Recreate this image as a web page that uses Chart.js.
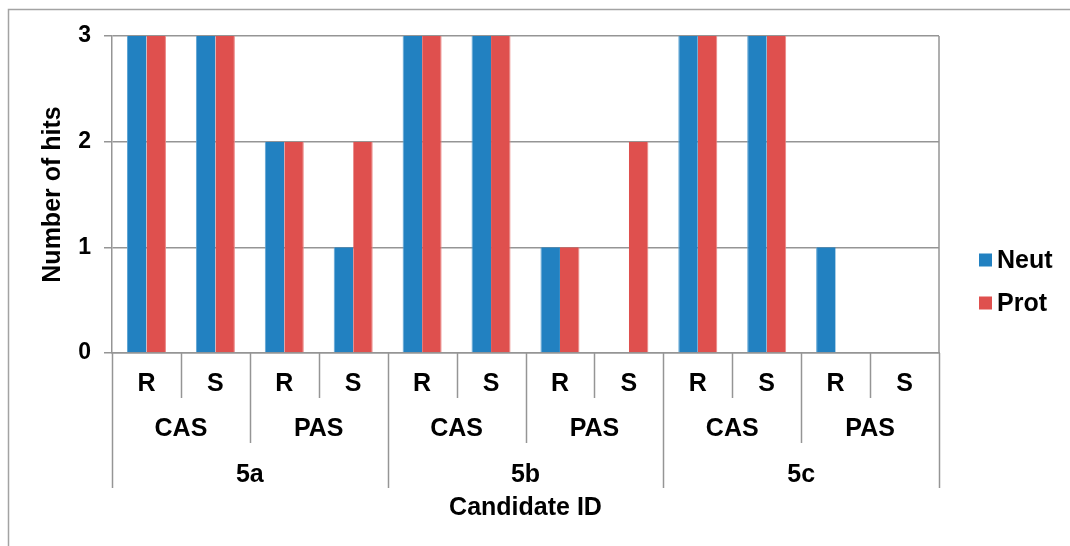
<!DOCTYPE html>
<html>
<head>
<meta charset="utf-8">
<script src="https://cdn.jsdelivr.net/npm/chart.js@4/dist/chart.umd.min.js"></script>
<style>
  html, body { margin: 0; padding: 0; background: #ffffff; }
  canvas { display: block; }
</style>
</head>
<body>
<canvas id="hits" width="1070" height="546"></canvas>
<script>
// Hit counts per candidate / antisense site / strand, two conditions
const candidates = ['5a', '5b', '5c'];
const sites = ['CAS', 'PAS'];
const strands = ['R', 'S'];
const seriesNames = ['Neut', 'Prot'];
const neutHits = [3, 3, 2, 1, 3, 3, 1, 0, 3, 3, 1, 0];
const protHits = [3, 3, 2, 2, 3, 3, 1, 2, 3, 3, 0, 0];
const yTicks = [0, 1, 2, 3];

const BLUE = '#2281c1';
const RED = '#df504e';
const LINE = '#959595';
const FONT = "'Liberation Sans', Arial, Helvetica, sans-serif";

// One category per candidate/site/strand combination
const categories = [];
candidates.forEach(c => sites.forEach(s => strands.forEach(r => categories.push([c, s, r]))));

Chart.defaults.font.family = FONT;
Chart.defaults.color = '#000000';

// Draws the three-level category axis, the plot frame, the legend and the outer border
const groupedAxis = {
  id: 'groupedAxis',
  afterDraw(chart) {
    const ctx = chart.ctx;
    const x = chart.scales.x;
    const area = chart.chartArea;
    const n = categories.length;
    const centre = i => x.getPixelForValue(i);
    const boundary = i => {
      if (i <= 0) return x.left;
      if (i >= n) return x.right;
      return (centre(i - 1) + centre(i)) / 2;
    };
    const axisY = area.bottom;
    const rows = [
      { depth: 45, labelY: 384, level: 2 },
      { depth: 90, labelY: 429, level: 1 },
      { depth: 135, labelY: 475, level: 0 }
    ];

    ctx.save();
    ctx.strokeStyle = LINE;
    ctx.lineWidth = 1.5;

    // right edge of the plot area
    ctx.beginPath();
    ctx.moveTo(area.right, area.top);
    ctx.lineTo(area.right, area.bottom);
    ctx.stroke();

    // separators: each boundary goes as deep as the outermost group it closes
    for (let i = 0; i <= n; i++) {
      let depth = rows[0].depth;
      if (i === 0 || i === n || i % 4 === 0) depth = rows[2].depth;
      else if (i % 2 === 0) depth = rows[1].depth;
      const px = Math.round(boundary(i)) + 0.5;
      ctx.beginPath();
      ctx.moveTo(px, axisY);
      ctx.lineTo(px, axisY + depth);
      ctx.stroke();
    }

    // group labels
    ctx.fillStyle = '#000000';
    ctx.font = 'bold 25px ' + FONT;
    ctx.textAlign = 'center';
    ctx.textBaseline = 'middle';
    rows.forEach(row => {
      let start = 0;
      for (let i = 1; i <= n; i++) {
        const key = a => categories[a].slice(0, row.level + 1).join('|');
        if (i === n || key(i) !== key(start)) {
          const label = categories[start][row.level];
          const mid = (boundary(start) + boundary(i)) / 2;
          ctx.fillText(label, mid, row.labelY);
          start = i;
        }
      }
    });

    // axis title
    ctx.fillText('Candidate ID', (x.left + x.right) / 2, 508);

    // legend
    const colours = [BLUE, RED];
    const legendY = [260, 303];
    ctx.textAlign = 'left';
    seriesNames.forEach((name, k) => {
      ctx.fillStyle = colours[k];
      ctx.fillRect(979, legendY[k] - 6.5, 13, 13);
      ctx.fillStyle = '#000000';
      ctx.fillText(name, 997, legendY[k] + 1);
    });

    // outer chart border
    ctx.strokeStyle = '#a3a3a3';
    ctx.lineWidth = 1.5;
    ctx.beginPath();
    ctx.moveTo(8.5, 546);
    ctx.lineTo(8.5, 9.5);
    ctx.lineTo(1070, 9.5);
    ctx.stroke();

    ctx.restore();
  }
};

new Chart(document.getElementById('hits'), {
  type: 'bar',
  data: {
    labels: categories.map(c => c.join(' ')),
    datasets: [
      {
        label: seriesNames[0],
        data: neutHits,
        backgroundColor: BLUE,
        borderColor: '#5da3d3',
        borderWidth: { left: 1, right: 0, top: 0, bottom: 0 }
      },
      {
        label: seriesNames[1],
        data: protHits,
        backgroundColor: RED,
        borderColor: '#ea8583',
        borderWidth: { left: 0, right: 1, top: 0, bottom: 0 }
      }
    ]
  },
  options: {
    responsive: false,
    devicePixelRatio: 1,
    animation: false,
    events: [],
    layout: { padding: { left: 0, top: 36, right: 131, bottom: 193 } },
    datasets: { bar: { categoryPercentage: 0.566, barPercentage: 1.0 } },
    plugins: {
      legend: { display: false },
      tooltip: { enabled: false }
    },
    scales: {
      x: {
        offset: true,
        grid: { display: false },
        border: { display: true, color: LINE, width: 1.5 },
        ticks: { display: false },
        afterFit(scale) { scale.height = 0; }
      },
      y: {
        min: 0,
        max: 3,
        afterBuildTicks(scale) { scale.ticks = yTicks.map(v => ({ value: v })); },
        ticks: {
          font: { size: 23, weight: 'bold' },
          color: '#000000',
          padding: 13
        },
        grid: { color: LINE, lineWidth: 1.5, tickLength: 8 },
        border: { display: true, color: LINE, width: 1.5 },
        title: {
          display: true,
          text: 'Number of hits',
          font: { size: 25, weight: 'bold' },
          color: '#000000',
          padding: { top: 38, bottom: 0 }
        },
        afterFit(scale) { scale.width = 112; }
      }
    }
  },
  plugins: [groupedAxis]
});
</script>
</body>
</html>
